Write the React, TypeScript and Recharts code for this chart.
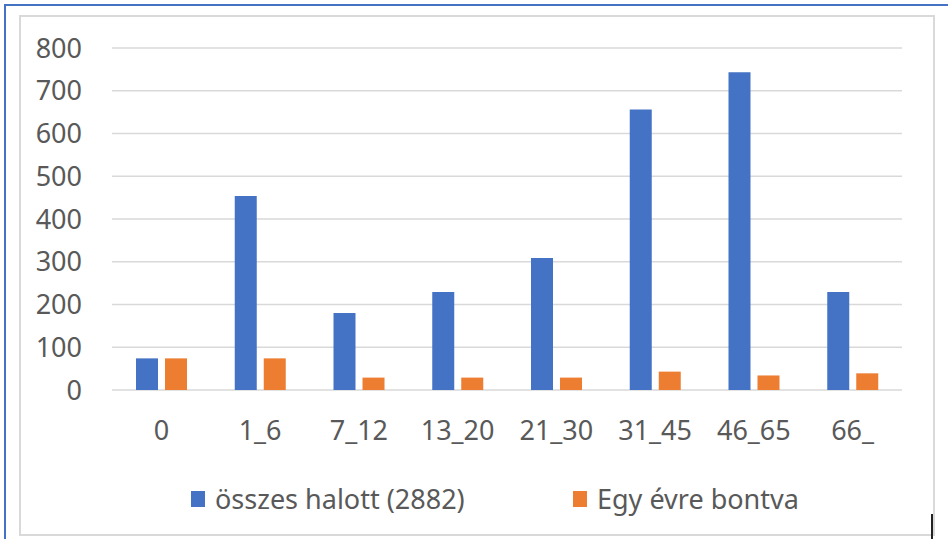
import { BarChart, Bar, XAxis, YAxis, CartesianGrid, Legend } from "recharts";

const categories = ["0", "1_6", "7_12", "13_20", "21_30", "31_45", "46_65", "66_"];
const osszesHalott = [74, 454, 180, 229, 309, 656, 743, 229];
const egyEvreBontva = [74, 74, 29, 29, 29, 43, 34, 39];
const yTicks = [0, 100, 200, 300, 400, 500, 600, 700, 800];

const BLUE = "#4472C4";
const ORANGE = "#ED7D31";
const TEXT = "#595959";
const FONT = "'Noto Sans', 'Open Sans', sans-serif";

const data = categories.map((name, i) => ({
    name,
    total: osszesHalott[i],
    perYear: egyEvreBontva[i]
}));

const legendItems = [
    { label: "összes halott (2882)", color: BLUE, left: 191 },
    { label: "Egy évre bontva", color: ORANGE, left: 573 }
];

function ChartLegend() {
    return (
        <div style={{ position: "relative", width: 948, height: 34 }}>
            {legendItems.map(item => (
                <div
                    key={item.label}
                    style={{
                        position: "absolute",
                        left: item.left,
                        top: 0,
                        display: "flex",
                        alignItems: "center",
                        fontFamily: FONT,
                        fontSize: 27,
                        lineHeight: "34px",
                        color: TEXT,
                        whiteSpace: "nowrap"
                    }}
                >
                    <span style={{ display: "inline-block", width: 14, height: 16, background: item.color, marginRight: 10 }} />
                    {item.label}
                </div>
            ))}
        </div>
    );
}

export default function App() {
    return (
        <div style={{ position: "absolute", left: 0, top: 0, width: 948, height: 539, background: "#fff", overflow: "hidden" }}>
            {/* screenshot frame */}
            <div style={{ position: "absolute", left: 4, top: 4, width: 944, height: 2, background: BLUE }} />
            <div style={{ position: "absolute", left: 4, top: 4, width: 2, height: 535, background: BLUE }} />
            <div style={{ position: "absolute", left: 19, top: 15, width: 912, height: 517, border: "2px solid #d9d9d9" }} />
            <div style={{ position: "absolute", left: 931, top: 514, width: 2, height: 25, background: "#222" }} />
            <div style={{ position: "absolute", left: 0, top: 0 }}>
                <BarChart
                    width={948}
                    height={539}
                    data={data}
                    margin={{ top: 48, right: 46, left: 0, bottom: 89 }}
                    barSize={22}
                    barGap={7}
                >
                    <CartesianGrid vertical={false} stroke="#d9d9d9" strokeWidth={1.5} />
                    <XAxis
                        dataKey="name"
                        height={60}
                        axisLine={false}
                        tickLine={false}
                        tickSize={0}
                        tickMargin={31}
                        tick={{ fill: TEXT, fontSize: 27, fontFamily: FONT }}
                        interval={0}
                    />
                    <YAxis
                        width={112}
                        domain={[0, 800]}
                        ticks={yTicks}
                        axisLine={false}
                        tickLine={false}
                        tickSize={0}
                        tickMargin={30}
                        tick={{ fill: TEXT, fontSize: 27, fontFamily: FONT }}
                    />
                    <Legend
                        verticalAlign="middle"
                        layout="horizontal"
                        wrapperStyle={{ top: 482, left: 0, width: 948 }}
                        content={() => <ChartLegend />}
                    />
                    <Bar dataKey="total" name="összes halott (2882)" fill={BLUE} isAnimationActive={false} />
                    <Bar dataKey="perYear" name="Egy évre bontva" fill={ORANGE} isAnimationActive={false} />
                </BarChart>
            </div>
        </div>
    );
}
